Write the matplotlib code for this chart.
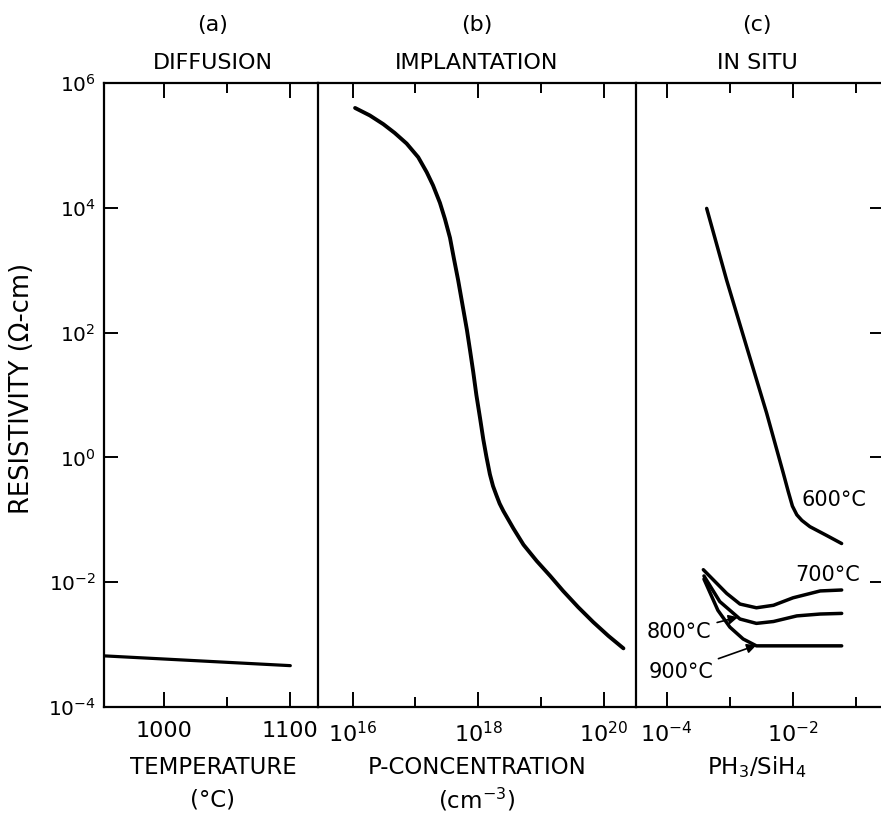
import numpy as np
import matplotlib
matplotlib.use("Agg")
import matplotlib.pyplot as plt
from matplotlib.ticker import FixedLocator, FixedFormatter, NullFormatter

plt.rcParams['font.family'] = ['DejaVu Sans']
plt.rcParams['mathtext.fontset'] = 'dejavusans'

# ---------------- data ----------------
# (a) diffusion: temperature (°C) vs resistivity (ohm-cm)
diff_temp = [952, 1100]
diff_rho = [6.6e-4, 4.6e-4]

# (b) implantation: log10 P-concentration (cm^-3) vs log10 resistivity
impl_logconc = [16.04, 16.275, 16.49, 16.67, 16.86, 17.045, 17.18, 17.28, 17.39,
                17.47, 17.55, 17.61, 17.68, 17.75, 17.82, 17.87, 17.92, 17.97,
                18.03, 18.08, 18.13, 18.185, 18.235, 18.29, 18.34, 18.40, 18.56,
                18.72, 18.93, 19.145, 19.35, 19.59, 19.83, 20.07, 20.31]
impl_logrho = [5.60, 5.48, 5.34, 5.20, 5.03, 4.81, 4.57, 4.36, 4.08,
               3.82, 3.52, 3.20, 2.84, 2.44, 2.04, 1.71, 1.37, 1.00,
               0.62, 0.29, 0.01, -0.27, -0.46, -0.61, -0.74, -0.86, -1.14,
               -1.40, -1.66, -1.90, -2.14, -2.40, -2.64, -2.86, -3.06]

# (c) in situ: log10 PH3/SiH4 vs log10 resistivity, by deposition temperature
c600_logx = [-3.367, -3.051, -2.734, -2.418, -2.155, -2.075, -2.01, -1.94, -1.86,
             -1.733, -1.47, -1.231]
c600_logy = [3.99, 2.84, 1.77, 0.71, -0.25, -0.55, -0.78, -0.92, -1.01,
             -1.11, -1.25, -1.38]

c700_logx = [-3.42, -3.05, -2.84, -2.58, -2.31, -2.00, -1.57, -1.23]
c700_logy = [-1.80, -2.18, -2.35, -2.41, -2.37, -2.25, -2.14, -2.125]

c800_logx = [-3.41, -3.16, -2.84, -2.58, -2.31, -1.94, -1.57, -1.23]
c800_logy = [-1.90, -2.31, -2.59, -2.66, -2.63, -2.54, -2.51, -2.50]

c900_logx = [-3.41, -3.19, -3.00, -2.79, -2.58, -1.89, -1.23]
c900_logy = [-1.95, -2.45, -2.72, -2.91, -3.02, -3.02, -3.02]

yticks_exp = [-4, -2, 0, 2, 4, 6]
a_major = [1000, 1100]
a_minor = [1050]
b_major_exp = [16, 18, 20]
b_minor_exp = [17, 19]
c_major_exp = [-4, -2]
c_minor_exp = [-3, -1]

# ---------------- layout ----------------
W, H = 881, 813
fig = plt.figure(figsize=(W / 100, H / 100), dpi=100)

def fx(px):
    return px / W

def fy(py):
    return 1 - py / H

top, bot = 83, 707
xa0, xb0, xc0, xc1 = 104, 318, 636, 884
axa = fig.add_axes([fx(xa0), fy(bot), fx(xb0) - fx(xa0), fy(top) - fy(bot)])
axb = fig.add_axes([fx(xb0), fy(bot), fx(xc0) - fx(xb0), fy(top) - fy(bot)])
axc = fig.add_axes([fx(xc0), fy(bot), fx(xc1) - fx(xc0), fy(top) - fy(bot)])

lw_sp = 1.6
tick_font = 16
for ax in (axa, axb, axc):
    ax.set_yscale('log')
    ax.set_ylim(1e-4, 1e6)
    for s in ax.spines.values():
        s.set_linewidth(lw_sp)
    ax.yaxis.set_major_locator(FixedLocator([10.0 ** e for e in yticks_exp]))
    ax.yaxis.set_minor_locator(FixedLocator([]))
    ax.tick_params(axis='x', which='major', direction='in', length=11, width=1.4,
                   top=True, bottom=True, labelsize=tick_font, pad=10)
    ax.tick_params(axis='x', which='minor', direction='in', length=7, width=1.4,
                   top=True, bottom=True)

axa.spines['right'].set_visible(False)
axb.spines['right'].set_visible(False)

# y ticks
axa.yaxis.set_major_formatter(FixedFormatter([r'$10^{%d}$' % e for e in yticks_exp]))
axa.tick_params(axis='y', which='major', direction='in', length=10, width=1.4,
                left=True, right=False, labelsize=14.5, pad=6)
axb.tick_params(axis='y', which='both', left=False, right=False, labelleft=False)
axc.tick_params(axis='y', which='major', direction='in', length=10, width=1.4,
                left=False, right=True, labelleft=False, labelright=False)

# (a)
axa.set_xlim(952, 1122)
axa.xaxis.set_major_locator(FixedLocator(a_major))
axa.xaxis.set_minor_locator(FixedLocator(a_minor))
axa.xaxis.set_major_formatter(FixedFormatter([str(v) for v in a_major]))
axa.xaxis.set_minor_formatter(NullFormatter())
axa.plot(diff_temp, diff_rho, color='black', lw=2.3, solid_capstyle='round')

# (b)
axb.set_xscale('log')
axb.set_xlim(10 ** 15.45, 10 ** 20.51)
axb.xaxis.set_major_locator(FixedLocator([10.0 ** e for e in b_major_exp]))
axb.xaxis.set_minor_locator(FixedLocator([10.0 ** e for e in b_minor_exp]))
axb.xaxis.set_major_formatter(FixedFormatter([r'$10^{%d}$' % e for e in b_major_exp]))
axb.xaxis.set_minor_formatter(NullFormatter())
axb.plot(10.0 ** np.array(impl_logconc), 10.0 ** np.array(impl_logrho),
         color='black', lw=2.8, solid_capstyle='round', solid_joinstyle='round')

# (c)
axc.set_xscale('log')
axc.set_xlim(10 ** -4.486, 10 ** -0.56)
axc.xaxis.set_major_locator(FixedLocator([10.0 ** e for e in c_major_exp]))
axc.xaxis.set_minor_locator(FixedLocator([10.0 ** e for e in c_minor_exp]))
axc.xaxis.set_major_formatter(FixedFormatter([r'$10^{%d}$' % e for e in c_major_exp]))
axc.xaxis.set_minor_formatter(NullFormatter())
for lx, ly in ((c600_logx, c600_logy), (c700_logx, c700_logy),
               (c800_logx, c800_logy), (c900_logx, c900_logy)):
    axc.plot(10.0 ** np.array(lx), 10.0 ** np.array(ly), color='black', lw=2.5,
             solid_capstyle='round', solid_joinstyle='round')

lab_fs = 15
axc.text(10 ** -1.36, 10 ** -0.68, '600°C', fontsize=lab_fs, ha='center', va='center')
axc.text(10 ** -1.45, 10 ** -1.88, '700°C', fontsize=lab_fs, ha='center', va='center')
axc.annotate('800°C', xy=(10 ** -2.87, 10 ** -2.56), xytext=(10 ** -3.80, 10 ** -2.80),
             fontsize=lab_fs, ha='center', va='center',
             arrowprops=dict(arrowstyle='-|>', color='black', lw=1.2,
                             mutation_scale=14, shrinkA=2, shrinkB=0))
axc.annotate('900°C', xy=(10 ** -2.58, 10 ** -3.01), xytext=(10 ** -3.78, 10 ** -3.44),
             fontsize=lab_fs, ha='center', va='center',
             arrowprops=dict(arrowstyle='-|>', color='black', lw=1.2,
                             mutation_scale=14, shrinkA=2, shrinkB=0))

# titles
title_fs = 16
centers = [(xa0 + xb0) / 2 + 2, (xb0 + xc0) / 2, (xc0 + xc1) / 2 - 3]
for cx, letter, name in zip(centers, ['(a)', '(b)', '(c)'],
                            ['DIFFUSION', 'IMPLANTATION', 'IN SITU']):
    fig.text(fx(cx), fy(25), letter, fontsize=title_fs, ha='center', va='center')
    fig.text(fx(cx), fy(63), name, fontsize=title_fs, ha='center', va='center')

# x labels
xl_fs = 16.5
fig.text(fx(centers[0]), fy(767), 'TEMPERATURE', fontsize=xl_fs, ha='center', va='center')
fig.text(fx(centers[0]), fy(800), '(°C)', fontsize=xl_fs, ha='center', va='center')
fig.text(fx(centers[1]), fy(767), 'P-CONCENTRATION', fontsize=xl_fs, ha='center', va='center')
fig.text(fx(centers[1]), fy(800), r'(cm$^{-3}$)', fontsize=xl_fs, ha='center', va='center')
fig.text(fx(757), fy(767), r'PH$_3$/SiH$_4$', fontsize=xl_fs, ha='center', va='center')

# y label
fig.text(fx(22), fy(388), 'RESISTIVITY (Ω-cm)', fontsize=18.5, rotation=90,
         ha='center', va='center')

fig.savefig('out.png', dpi=100)
